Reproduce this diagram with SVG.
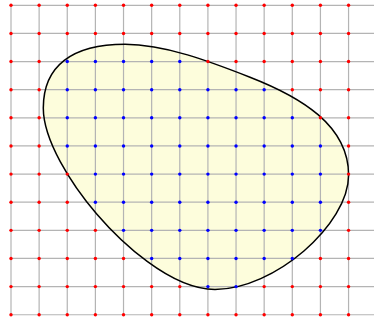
<svg xmlns="http://www.w3.org/2000/svg" width="374" height="324" viewBox="0 0 374 324">
<style>
.g line{stroke:#b4b4b4;stroke-width:1.2}
.blob{fill:#fdfddc;stroke:none}
.edge{fill:none;stroke:#000;stroke-width:1.5}
.r{fill:#ff0000}
.b{fill:#0000ff}
</style>
<defs>
<circle id="d" r="1.7"/>
</defs>
<path id="fill" class="blob" d="M43.3,108 C43.3,66 72,44.3 125,44.3 C165,44.3 210,61.6 250,77.2 C300,96.7 348.6,125 348.6,175 C348.6,225 274,289.5 215,289.5 C170,289.5 119.5,240.6 96.7,214 C70.7,183.6 43.3,140 43.3,108 Z"/>
<g class="g" id="grid">
<line x1="11" y1="5.3" x2="11" y2="314.73"/>
<line x1="39.13" y1="5.3" x2="39.13" y2="314.73"/>
<line x1="67.26" y1="5.3" x2="67.26" y2="314.73"/>
<line x1="95.39" y1="5.3" x2="95.39" y2="314.73"/>
<line x1="123.52" y1="5.3" x2="123.52" y2="314.73"/>
<line x1="151.65" y1="5.3" x2="151.65" y2="314.73"/>
<line x1="179.78" y1="5.3" x2="179.78" y2="314.73"/>
<line x1="207.91" y1="5.3" x2="207.91" y2="314.73"/>
<line x1="236.04" y1="5.3" x2="236.04" y2="314.73"/>
<line x1="264.17" y1="5.3" x2="264.17" y2="314.73"/>
<line x1="292.3" y1="5.3" x2="292.3" y2="314.73"/>
<line x1="320.43" y1="5.3" x2="320.43" y2="314.73"/>
<line x1="348.56" y1="5.3" x2="348.56" y2="314.73"/>
<line x1="11" y1="5.3" x2="374" y2="5.3"/>
<line x1="11" y1="33.43" x2="374" y2="33.43"/>
<line x1="11" y1="61.56" x2="374" y2="61.56"/>
<line x1="11" y1="89.69" x2="374" y2="89.69"/>
<line x1="11" y1="117.82" x2="374" y2="117.82"/>
<line x1="11" y1="145.95" x2="374" y2="145.95"/>
<line x1="11" y1="174.08" x2="374" y2="174.08"/>
<line x1="11" y1="202.21" x2="374" y2="202.21"/>
<line x1="11" y1="230.34" x2="374" y2="230.34"/>
<line x1="11" y1="258.47" x2="374" y2="258.47"/>
<line x1="11" y1="286.6" x2="374" y2="286.6"/>
<line x1="11" y1="314.73" x2="374" y2="314.73"/>
</g>
<path id="curve" class="edge" d="M43.3,108 C43.3,66 72,44.3 125,44.3 C165,44.3 210,61.6 250,77.2 C300,96.7 348.6,125 348.6,175 C348.6,225 274,289.5 215,289.5 C170,289.5 119.5,240.6 96.7,214 C70.7,183.6 43.3,140 43.3,108 Z"/>
<g id="dots">
<g class="r">
<use href="#d" x="11" y="5.3"/><use href="#d" x="39.13" y="5.3"/><use href="#d" x="67.26" y="5.3"/><use href="#d" x="95.39" y="5.3"/><use href="#d" x="123.52" y="5.3"/><use href="#d" x="151.65" y="5.3"/><use href="#d" x="179.78" y="5.3"/><use href="#d" x="207.91" y="5.3"/><use href="#d" x="236.04" y="5.3"/><use href="#d" x="264.17" y="5.3"/><use href="#d" x="292.3" y="5.3"/><use href="#d" x="320.43" y="5.3"/><use href="#d" x="348.56" y="5.3"/>
<use href="#d" x="11" y="33.43"/><use href="#d" x="39.13" y="33.43"/><use href="#d" x="67.26" y="33.43"/><use href="#d" x="95.39" y="33.43"/><use href="#d" x="123.52" y="33.43"/><use href="#d" x="151.65" y="33.43"/><use href="#d" x="179.78" y="33.43"/><use href="#d" x="207.91" y="33.43"/><use href="#d" x="236.04" y="33.43"/><use href="#d" x="264.17" y="33.43"/><use href="#d" x="292.3" y="33.43"/><use href="#d" x="320.43" y="33.43"/><use href="#d" x="348.56" y="33.43"/>
<use href="#d" x="11" y="61.56"/><use href="#d" x="39.13" y="61.56"/><use href="#d" x="207.91" y="61.56"/><use href="#d" x="236.04" y="61.56"/><use href="#d" x="264.17" y="61.56"/><use href="#d" x="292.3" y="61.56"/><use href="#d" x="320.43" y="61.56"/><use href="#d" x="348.56" y="61.56"/>
<use href="#d" x="11" y="89.69"/><use href="#d" x="39.13" y="89.69"/><use href="#d" x="292.3" y="89.69"/><use href="#d" x="320.43" y="89.69"/><use href="#d" x="348.56" y="89.69"/>
<use href="#d" x="11" y="117.82"/><use href="#d" x="39.13" y="117.82"/><use href="#d" x="320.43" y="117.82"/><use href="#d" x="348.56" y="117.82"/>
<use href="#d" x="11" y="145.95"/><use href="#d" x="39.13" y="145.95"/><use href="#d" x="348.56" y="145.95"/>
<use href="#d" x="11" y="174.08"/><use href="#d" x="39.13" y="174.08"/><use href="#d" x="67.26" y="174.08"/><use href="#d" x="348.56" y="174.08"/>
<use href="#d" x="11" y="202.21"/><use href="#d" x="39.13" y="202.21"/><use href="#d" x="67.26" y="202.21"/><use href="#d" x="348.56" y="202.21"/>
<use href="#d" x="11" y="230.34"/><use href="#d" x="39.13" y="230.34"/><use href="#d" x="67.26" y="230.34"/><use href="#d" x="95.39" y="230.34"/><use href="#d" x="348.56" y="230.34"/>
<use href="#d" x="11" y="258.47"/><use href="#d" x="39.13" y="258.47"/><use href="#d" x="67.26" y="258.47"/><use href="#d" x="95.39" y="258.47"/><use href="#d" x="123.52" y="258.47"/><use href="#d" x="320.43" y="258.47"/><use href="#d" x="348.56" y="258.47"/>
<use href="#d" x="11" y="286.6"/><use href="#d" x="39.13" y="286.6"/><use href="#d" x="67.26" y="286.6"/><use href="#d" x="95.39" y="286.6"/><use href="#d" x="123.52" y="286.6"/><use href="#d" x="151.65" y="286.6"/><use href="#d" x="179.78" y="286.6"/><use href="#d" x="264.17" y="286.6"/><use href="#d" x="292.3" y="286.6"/><use href="#d" x="320.43" y="286.6"/><use href="#d" x="348.56" y="286.6"/>
<use href="#d" x="11" y="314.73"/><use href="#d" x="39.13" y="314.73"/><use href="#d" x="67.26" y="314.73"/><use href="#d" x="95.39" y="314.73"/><use href="#d" x="123.52" y="314.73"/><use href="#d" x="151.65" y="314.73"/><use href="#d" x="179.78" y="314.73"/><use href="#d" x="207.91" y="314.73"/><use href="#d" x="236.04" y="314.73"/><use href="#d" x="264.17" y="314.73"/><use href="#d" x="292.3" y="314.73"/><use href="#d" x="320.43" y="314.73"/><use href="#d" x="348.56" y="314.73"/>
</g>
<g class="b">
<use href="#d" x="67.26" y="61.56"/><use href="#d" x="95.39" y="61.56"/><use href="#d" x="123.52" y="61.56"/><use href="#d" x="151.65" y="61.56"/><use href="#d" x="179.78" y="61.56"/>
<use href="#d" x="67.26" y="89.69"/><use href="#d" x="95.39" y="89.69"/><use href="#d" x="123.52" y="89.69"/><use href="#d" x="151.65" y="89.69"/><use href="#d" x="179.78" y="89.69"/><use href="#d" x="207.91" y="89.69"/><use href="#d" x="236.04" y="89.69"/><use href="#d" x="264.17" y="89.69"/>
<use href="#d" x="67.26" y="117.82"/><use href="#d" x="95.39" y="117.82"/><use href="#d" x="123.52" y="117.82"/><use href="#d" x="151.65" y="117.82"/><use href="#d" x="179.78" y="117.82"/><use href="#d" x="207.91" y="117.82"/><use href="#d" x="236.04" y="117.82"/><use href="#d" x="264.17" y="117.82"/><use href="#d" x="292.3" y="117.82"/>
<use href="#d" x="67.26" y="145.95"/><use href="#d" x="95.39" y="145.95"/><use href="#d" x="123.52" y="145.95"/><use href="#d" x="151.65" y="145.95"/><use href="#d" x="179.78" y="145.95"/><use href="#d" x="207.91" y="145.95"/><use href="#d" x="236.04" y="145.95"/><use href="#d" x="264.17" y="145.95"/><use href="#d" x="292.3" y="145.95"/><use href="#d" x="320.43" y="145.95"/>
<use href="#d" x="95.39" y="174.08"/><use href="#d" x="123.52" y="174.08"/><use href="#d" x="151.65" y="174.08"/><use href="#d" x="179.78" y="174.08"/><use href="#d" x="207.91" y="174.08"/><use href="#d" x="236.04" y="174.08"/><use href="#d" x="264.17" y="174.08"/><use href="#d" x="292.3" y="174.08"/><use href="#d" x="320.43" y="174.08"/>
<use href="#d" x="95.39" y="202.21"/><use href="#d" x="123.52" y="202.21"/><use href="#d" x="151.65" y="202.21"/><use href="#d" x="179.78" y="202.21"/><use href="#d" x="207.91" y="202.21"/><use href="#d" x="236.04" y="202.21"/><use href="#d" x="264.17" y="202.21"/><use href="#d" x="292.3" y="202.21"/><use href="#d" x="320.43" y="202.21"/>
<use href="#d" x="123.52" y="230.34"/><use href="#d" x="151.65" y="230.34"/><use href="#d" x="179.78" y="230.34"/><use href="#d" x="207.91" y="230.34"/><use href="#d" x="236.04" y="230.34"/><use href="#d" x="264.17" y="230.34"/><use href="#d" x="292.3" y="230.34"/><use href="#d" x="320.43" y="230.34"/>
<use href="#d" x="151.65" y="258.47"/><use href="#d" x="179.78" y="258.47"/><use href="#d" x="207.91" y="258.47"/><use href="#d" x="236.04" y="258.47"/><use href="#d" x="264.17" y="258.47"/><use href="#d" x="292.3" y="258.47"/>
<use href="#d" x="207.91" y="286.6"/><use href="#d" x="236.04" y="286.6"/>
</g>
</g>
</svg>
